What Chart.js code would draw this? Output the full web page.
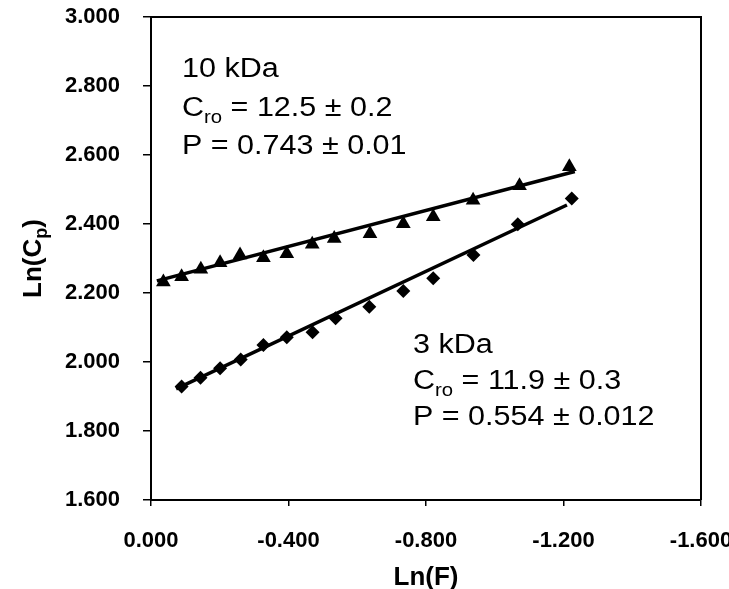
<!DOCTYPE html>
<html><head><meta charset="utf-8">
<script src="https://cdn.jsdelivr.net/npm/chart.js@4.4.1/dist/chart.umd.min.js"></script>
<style>html,body{margin:0;padding:0;background:#fff;} #wrap{width:729px;height:589px;position:relative;}</style>
</head><body><div id="wrap"><canvas id="c" width="729" height="589"></canvas></div>
<script>
// ---- data ----
const xTickValues = [0, -0.4, -0.8, -1.2, -1.6];
const xTickLabels = ['0.000', '-0.400', '-0.800', '-1.200', '-1.600'];
const yTickValues = [1.6, 1.8, 2.0, 2.2, 2.4, 2.6, 2.8, 3.0];
const yTickLabels = ['1.600', '1.800', '2.000', '2.200', '2.400', '2.600', '2.800', '3.000'];

// 10 kDa (triangles)
const lnF10  = [-0.036, -0.089, -0.145, -0.201, -0.259, -0.327, -0.395, -0.469, -0.533, -0.637, -0.734, -0.821, -0.937, -1.072, -1.217];
const lnCp10 = [2.232, 2.247, 2.269, 2.288, 2.310, 2.302, 2.314, 2.341, 2.358, 2.372, 2.401, 2.421, 2.469, 2.511, 2.566];
// 3 kDa (diamonds)
const lnF3  = [-0.089, -0.144, -0.201, -0.261, -0.327, -0.395, -0.470, -0.537, -0.635, -0.734, -0.821, -0.938, -1.067, -1.224];
const lnCp3 = [1.929, 1.954, 1.982, 2.007, 2.049, 2.072, 2.086, 2.127, 2.160, 2.206, 2.243, 2.310, 2.399, 2.474];
// fitted lines (end points)
const fit10X = [-0.017, -1.233];
const fit10Y = [2.235, 2.552];
const fit3X = [-0.073, -1.210];
const fit3Y = [1.922, 2.455];

const seriesNames = ['10 kDa', '3 kDa'];
const annot10 = ['10 kDa', '12.5 \u00b1 0.2', '0.743 \u00b1 0.01'];
const annot3 = ['3 kDa', '11.9 \u00b1 0.3', '0.554 \u00b1 0.012'];

const toPts = (xs, ys) => xs.map((x, i) => ({x: x, y: ys[i]}));
const FONT = "'Liberation Sans', Arial, Helvetica, sans-serif";

function drawRich(ctx, x, y, parts, sx) {
  ctx.save();
  ctx.translate(x, y);
  ctx.scale(sx, 1);
  ctx.textAlign = 'left';
  ctx.textBaseline = 'alphabetic';
  ctx.fillStyle = '#000';
  let cx = 0;
  for (const p of parts) {
    ctx.font = (p.w || 'normal') + ' ' + p.s + 'px ' + FONT;
    ctx.fillText(p.t, cx, p.dy || 0);
    cx += ctx.measureText(p.t).width;
  }
  ctx.restore();
}
function richWidth(ctx, parts) {
  let w = 0;
  for (const p of parts) { ctx.font = (p.w || 'normal') + ' ' + p.s + 'px ' + FONT; w += ctx.measureText(p.t).width; }
  return w;
}

const overlay = {
  id: 'overlay',
  afterDraw(chart) {
    const ctx = chart.ctx, a = chart.chartArea;
    ctx.save();
    ctx.strokeStyle = '#000';
    ctx.lineWidth = 2;
    ctx.beginPath();
    ctx.moveTo(a.left, a.top);
    ctx.lineTo(a.right, a.top);
    ctx.lineTo(a.right, a.bottom);
    ctx.stroke();

    const S = 27, SUB = 18, SX = 1.13;
    const blocks = [[annot10, 182, 77, 38.5], [annot3, 413, 353, 36]];
    for (const [t, x, y, lh] of blocks) {
      drawRich(ctx, x, y, [{t: t[0], s: S}], SX);
      drawRich(ctx, x, y + lh, [{t: 'C', s: S}, {t: 'ro', s: SUB, dy: 7}, {t: ' = ' + t[1], s: S}], SX);
      drawRich(ctx, x, y + 2 * lh, [{t: 'P = ' + t[2], s: S}], SX);
    }

    // axis titles
    const xt = [{t: 'Ln(F)', s: 26, w: 'bold'}];
    const xw = richWidth(ctx, xt);
    drawRich(ctx, (a.left + a.right) / 2 - xw / 2, 585, xt, 1);

    const yt = [{t: 'Ln(C', s: 26, w: 'bold'}, {t: 'p', s: 18, w: 'bold', dy: 6}, {t: ')', s: 26, w: 'bold'}];
    const yw = richWidth(ctx, yt);
    ctx.save();
    ctx.translate(41, (a.top + a.bottom) / 2);
    ctx.rotate(-Math.PI / 2);
    drawRich(ctx, -yw / 2, 0, yt, 1);
    ctx.restore();
    ctx.restore();
  }
};

new Chart(document.getElementById('c'), {
  type: 'scatter',
  data: {
    datasets: [
      {label: seriesNames[0], data: toPts(lnF10, lnCp10), pointStyle: 'triangle', pointRadius: 8.5, pointHoverRadius: 8.5,
       backgroundColor: '#000', borderColor: '#000', borderWidth: 0, showLine: false},
      {label: seriesNames[1], data: toPts(lnF3, lnCp3), pointStyle: 'rectRot', pointRadius: 7, pointHoverRadius: 7,
       backgroundColor: '#000', borderColor: '#000', borderWidth: 0, showLine: false},
      {label: seriesNames[0] + ' fit', data: toPts(fit10X, fit10Y), showLine: true, pointRadius: 0,
       borderColor: '#000', borderWidth: 3.5, fill: false},
      {label: seriesNames[1] + ' fit', data: toPts(fit3X, fit3Y), showLine: true, pointRadius: 0,
       borderColor: '#000', borderWidth: 3.5, fill: false}
    ]
  },
  options: {
    responsive: false,
    animation: false,
    devicePixelRatio: 1,
    layout: {padding: {top: 17, right: 28, left: 0, bottom: 0}},
    plugins: {legend: {display: false}, tooltip: {enabled: false}},
    scales: {
      x: {
        type: 'linear', min: -1.6, max: 0, reverse: true,
        afterBuildTicks: s => { s.ticks = xTickValues.map(v => ({value: v})); },
        afterFit: s => { s.height = 89; s.paddingLeft = 0; s.paddingRight = 0; },
        ticks: {
          padding: 22, maxRotation: 0, autoSkip: false,
          color: '#000', font: {family: FONT, size: 22, weight: 'bold'},
          callback: v => xTickLabels[xTickValues.findIndex(t => Math.abs(t - v) < 1e-9)]
        },
        grid: {drawOnChartArea: false, drawTicks: true, tickLength: 6, color: '#000', lineWidth: 1.5},
        border: {display: true, color: '#000', width: 2}
      },
      y: {
        type: 'linear', min: 1.6, max: 3.0,
        afterBuildTicks: s => { s.ticks = yTickValues.map(v => ({value: v})); },
        afterFit: s => { s.width = 151; s.paddingTop = 0; s.paddingBottom = 0; },
        ticks: {
          padding: 23, autoSkip: false,
          color: '#000', font: {family: FONT, size: 22, weight: 'bold'},
          callback: v => yTickLabels[yTickValues.findIndex(t => Math.abs(t - v) < 1e-9)]
        },
        grid: {drawOnChartArea: false, drawTicks: true, tickLength: 8, color: '#000', lineWidth: 1.5},
        border: {display: true, color: '#000', width: 2}
      }
    }
  },
  plugins: [overlay]
});
</script>
</body></html>
